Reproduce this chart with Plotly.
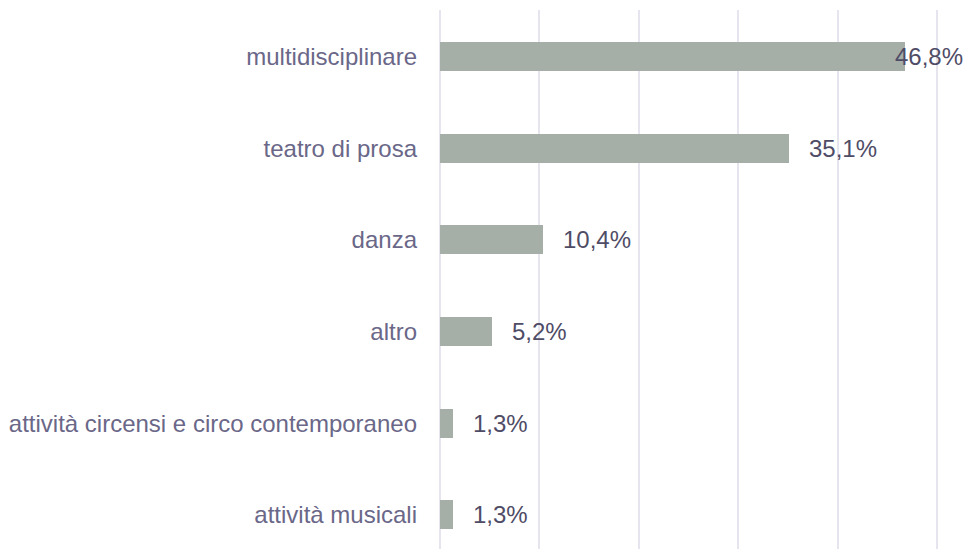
import plotly.graph_objects as go

categories = [
    "multidisciplinare",
    "teatro di prosa",
    "danza",
    "altro",
    "attività circensi e circo contemporaneo",
    "attività musicali",
]
values = [46.8, 35.1, 10.4, 5.2, 1.3, 1.3]
value_labels = ["46,8%", "35,1%", "10,4%", "5,2%", "1,3%", "1,3%"]

W, H = 967, 559
ML, MR, MT, MB = 439.5, 24.5, 10, 10
X_MAX = 50.5
FONT = "Liberation Sans, Arial, sans-serif"
FS = 24
px_per_unit = (W - ML - MR) / X_MAX

fig = go.Figure()
fig.add_trace(go.Bar(
    x=values, y=categories, orientation="h",
    marker=dict(color="#a5aea7", line=dict(width=0)),
    width=0.316, hoverinfo="skip", cliponaxis=False,
))

annotations = []
for cat, v, lab in zip(categories, values, value_labels):
    bar_end = ML + v * px_per_unit
    est_w = 0.5 * FS * len(lab) + 0.4 * FS
    shift = min(18, (W - 4) - est_w - bar_end)
    annotations.append(dict(
        x=v, y=cat, xref="x", yref="y", text=lab, showarrow=False,
        xanchor="left", yanchor="middle", xshift=shift,
        font=dict(family=FONT, size=FS, color="#4f4c66"),
    ))

fig.update_layout(
    width=W, height=H,
    margin=dict(l=ML, r=MR, t=MT, b=MB, pad=0, autoexpand=False),
    plot_bgcolor="white", paper_bgcolor="white",
    showlegend=False,
    annotations=annotations,
    bargap=0,
)
fig.update_xaxes(
    range=[0, X_MAX], dtick=10, tick0=0,
    showgrid=True, gridcolor="#e6e5ef", gridwidth=2,
    zeroline=True, zerolinecolor="#e6e5ef", zerolinewidth=2,
    showticklabels=False, showline=False, fixedrange=True,
)
fig.update_yaxes(
    type="category", categoryorder="array", categoryarray=categories,
    range=[5.371, -0.507],
    showgrid=False, zeroline=False, showline=False,
    ticks="", ticklabelstandoff=22,
    tickfont=dict(family=FONT, size=FS, color="#6a6788"),
    automargin=False, fixedrange=True,
)

fig.write_html(
    "out.html",
    config={"displayModeBar": False, "staticPlot": True},
    post_script="document.body.style.margin='0';document.body.style.overflow='hidden';",
)
